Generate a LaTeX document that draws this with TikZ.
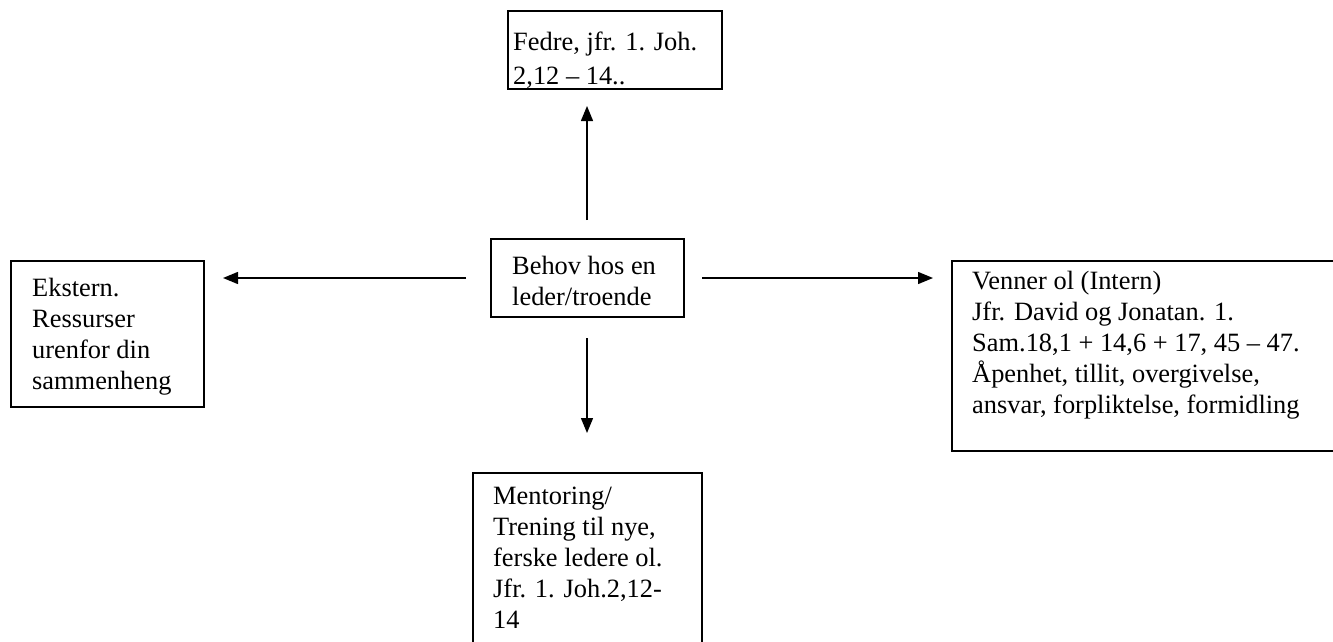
\documentclass[tikz,border=0pt]{standalone}
\usepackage{fontspec}
\setmainfont{Liberation Serif}
\usetikzlibrary{arrows.meta}
\tikzset{
  box/.style={draw, line width=1.8pt, inner sep=0pt, outer sep=0pt, anchor=north west},
  txt/.style={font=\fontsize{26.4pt}{31pt}\selectfont, align=left, inner sep=0pt, anchor=north west},
  arr/.style={line width=1.4pt, -{Triangle[length=15pt,width=12pt]}}
}
\begin{document}
\begin{tikzpicture}[x=1pt,y=-1pt]
\useasboundingbox (0,0) rectangle (1333,642);
\clip (0,0) rectangle (1333,642);
% boxes
\node[box, minimum width=214pt, minimum height=78pt] (fedre) at (508,11) {};
\node[box, minimum width=193pt, minimum height=78pt] (behov) at (491,239) {};
\node[box, minimum width=193pt, minimum height=146pt] (ekstern) at (11,261) {};
\node[box, minimum width=420pt, minimum height=190pt] (venner) at (952,261) {};
\node[box, minimum width=229pt, minimum height=200pt] (mentor) at (473,473) {};
% texts
\node[txt] (tfedre) at (513,32) {Fedre, jfr. 1. Joh.\\[3pt]2,12 -- 14..};
\node[txt] (tbehov) at (512,256) {Behov hos en\\leder/troende};
\node[txt] (tekstern) at (32,278) {Ekstern.\\Ressurser\\urenfor din\\sammenheng};
\node[txt] (tvenner) at (972,271) {Venner ol (Intern)\\Jfr. David og Jonatan. 1.\\Sam.18,1 + 14,6 + 17, 45 -- 47.\\Åpenhet, tillit, overgivelse,\\ansvar, forpliktelse, formidling};
\node[txt] (tmentor) at (493,487) {Mentoring/\\Trening til nye,\\ferske ledere ol.\\Jfr. 1. Joh.2,12-\\14};
% arrow ends
\coordinate (upS) at (587,220);
\coordinate (upE) at (587,106);
\coordinate (lS) at (466,278);
\coordinate (lE) at (223,278);
\coordinate (rS) at (702,278);
\coordinate (rE) at (933,278);
\coordinate (dS) at (587,338);
\coordinate (dE) at (587,433);
\draw[arr] (upS) -- (upE);
\draw[arr] (lS) -- (lE);
\draw[arr] (rS) -- (rE);
\draw[arr] (dS) -- (dE);
\end{tikzpicture}
\end{document}
